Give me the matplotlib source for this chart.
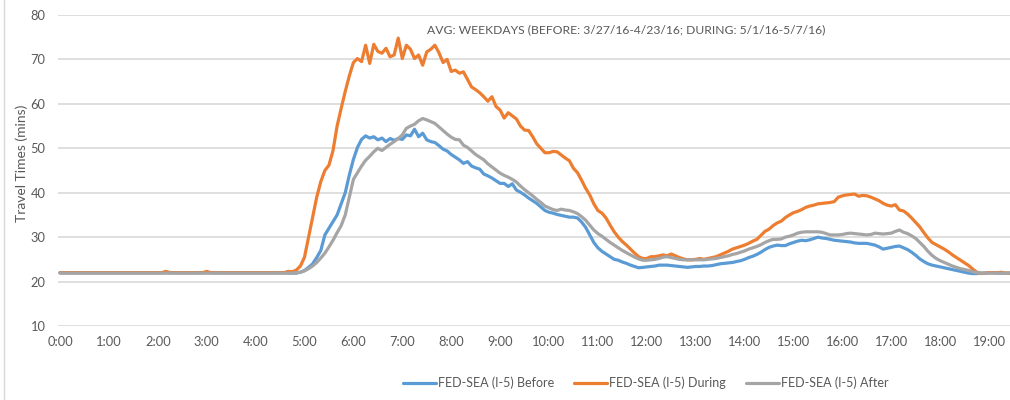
import matplotlib
matplotlib.use("Agg")
import matplotlib.pyplot as plt
from matplotlib.lines import Line2D

# ---- data (5-minute intervals, 0:00 .. 19:30), one row per hour ----
before = (
    [22.0, 22.0, 22.0, 22.0, 22.0, 22.0, 22.0, 22.0, 22.0, 22.0, 22.0, 22.0] +
    [22.0, 22.0, 22.0, 22.0, 22.0, 22.0, 22.0, 22.0, 22.0, 22.0, 22.0, 22.0] +
    [22.0, 22.0, 22.0, 22.0, 22.0, 22.0, 22.0, 22.0, 22.0, 22.0, 22.0, 22.0] +
    [22.0, 22.0, 22.0, 22.0, 22.0, 22.0, 22.0, 22.0, 22.0, 22.0, 22.0, 22.0] +
    [22.0, 22.0, 22.0, 22.0, 22.0, 22.0, 22.0, 22.0, 21.9, 21.9, 21.9, 22.1] +
    [22.5, 23.2, 24.0, 25.4, 27.0, 30.5, 32.0, 33.5, 35.0, 37.5, 40.0, 44.0] +
    [47.5, 50.2, 52.0, 52.8, 52.3, 52.6, 51.9, 52.3, 51.5, 52.2, 51.8, 52.2] +
    [52.0, 53.0, 52.8, 54.3, 52.6, 53.4, 51.9, 51.5, 51.3, 50.6, 49.8, 49.4] +
    [48.6, 48.0, 47.4, 46.6, 47.0, 46.0, 45.6, 45.3, 44.2, 43.8, 43.3, 42.7] +
    [42.1, 42.1, 41.4, 42.0, 40.6, 40.1, 39.5, 38.8, 38.2, 37.6, 36.8, 36.0] +
    [35.6, 35.4, 35.1, 34.9, 34.7, 34.5, 34.5, 34.3, 33.4, 32.2, 30.5, 28.8] +
    [27.6, 26.8, 26.2, 25.6, 25.0, 24.8, 24.4, 24.1, 23.7, 23.4, 23.1, 23.2] +
    [23.3, 23.4, 23.5, 23.7, 23.7, 23.7, 23.6, 23.5, 23.4, 23.3, 23.2, 23.3] +
    [23.4, 23.4, 23.5, 23.5, 23.6, 23.8, 24.0, 24.1, 24.2, 24.3, 24.5, 24.7] +
    [25.0, 25.4, 25.7, 26.1, 26.6, 27.2, 27.7, 28.0, 28.2, 28.1, 28.1, 28.5] +
    [28.8, 29.1, 29.3, 29.2, 29.4, 29.7, 30.0, 29.8, 29.7, 29.5, 29.3, 29.2] +
    [29.1, 29.0, 28.9, 28.7, 28.6, 28.6, 28.6, 28.4, 28.2, 27.8, 27.3, 27.5] +
    [27.7, 27.9, 28.0, 27.6, 27.2, 26.6, 25.9, 25.1, 24.5, 24.0, 23.7, 23.5] +
    [23.3, 23.1, 22.9, 22.7, 22.5, 22.3, 22.1, 21.9, 21.8, 21.8, 21.9, 21.9] +
    [22.0, 22.0, 21.9, 21.9, 21.9, 21.9, 21.9]
)

during = (
    [22.0, 22.0, 22.0, 22.0, 22.0, 22.0, 22.0, 22.0, 22.0, 22.0, 22.0, 22.0] +
    [22.0, 22.0, 22.0, 22.0, 22.0, 22.0, 22.0, 22.0, 22.0, 22.0, 22.0, 22.0] +
    [22.0, 22.0, 22.3, 22.0, 22.0, 22.0, 22.0, 22.0, 22.0, 22.0, 22.0, 22.0] +
    [22.3, 22.0, 22.0, 22.0, 22.0, 22.0, 22.0, 22.0, 22.0, 22.0, 22.0, 22.0] +
    [22.0, 22.0, 22.0, 22.0, 22.0, 22.0, 22.0, 22.0, 22.3, 22.2, 22.6, 23.5] +
    [25.5, 30.0, 34.6, 39.0, 42.5, 45.0, 46.2, 49.5, 55.0, 59.0, 62.8, 66.3] +
    [69.3, 70.2, 69.5, 73.2, 69.1, 73.4, 71.8, 71.4, 72.5, 70.6, 71.0, 74.8] +
    [70.2, 73.2, 72.3, 70.2, 71.0, 68.7, 71.7, 72.3, 73.2, 71.5, 69.3, 70.0] +
    [67.3, 67.6, 66.9, 67.2, 65.5, 63.8, 63.2, 62.5, 61.6, 60.6, 61.6, 59.4] +
    [58.6, 56.8, 58.0, 57.3, 56.6, 55.0, 54.1, 54.0, 52.6, 51.0, 50.0, 49.0] +
    [49.0, 49.3, 49.2, 48.5, 47.8, 47.2, 45.5, 44.5, 42.8, 41.0, 39.5, 37.5] +
    [36.0, 35.4, 34.3, 32.7, 31.2, 30.0, 29.0, 28.2, 27.3, 26.4, 25.6, 25.2] +
    [25.2, 25.6, 25.6, 25.8, 26.0, 25.8, 26.2, 25.8, 25.4, 25.1, 24.9, 24.9] +
    [25.0, 25.2, 25.0, 25.2, 25.4, 25.6, 26.0, 26.4, 26.8, 27.3, 27.6, 27.9] +
    [28.2, 28.6, 29.1, 29.5, 30.4, 31.3, 31.8, 32.6, 33.2, 33.6, 34.4, 35.0] +
    [35.5, 35.8, 36.2, 36.7, 37.0, 37.2, 37.5, 37.6, 37.7, 37.8, 38.0, 39.0] +
    [39.3, 39.5, 39.6, 39.7, 39.2, 39.4, 39.3, 39.0, 38.6, 38.2, 37.6, 37.2] +
    [37.0, 37.3, 36.1, 35.9, 35.2, 34.3, 33.3, 32.3, 31.0, 29.8, 28.8, 28.3] +
    [27.8, 27.3, 26.7, 26.0, 25.4, 24.8, 24.2, 23.6, 22.8, 22.1, 21.8, 21.9] +
    [22.0, 22.0, 22.0, 22.1, 21.9, 21.9, 21.9]
)

after = (
    [21.9, 21.9, 21.9, 21.9, 21.9, 21.9, 21.9, 21.9, 21.9, 21.9, 21.9, 21.9] +
    [21.9, 21.9, 21.9, 21.9, 21.9, 21.9, 21.9, 21.9, 21.9, 21.9, 21.9, 21.9] +
    [21.9, 21.9, 21.9, 21.9, 21.9, 21.9, 21.9, 21.9, 21.9, 21.9, 21.9, 21.9] +
    [21.9, 21.9, 21.9, 21.9, 21.9, 21.9, 21.9, 21.9, 21.9, 21.9, 21.9, 21.9] +
    [21.9, 21.9, 21.9, 21.9, 21.9, 21.9, 21.9, 21.9, 21.9, 21.9, 22.0, 22.1] +
    [22.4, 22.9, 23.5, 24.3, 25.3, 26.4, 27.8, 29.3, 31.0, 32.6, 35.0, 39.0] +
    [43.0, 44.5, 46.0, 47.3, 48.2, 49.2, 50.0, 49.5, 50.2, 50.9, 51.5, 52.2] +
    [53.0, 54.5, 55.0, 55.4, 56.2, 56.7, 56.4, 56.0, 55.6, 54.8, 54.0, 53.2] +
    [52.5, 52.0, 51.9, 50.7, 50.2, 49.4, 48.6, 48.0, 47.4, 46.5, 45.8, 45.1] +
    [44.4, 43.9, 43.5, 43.0, 42.4, 41.5, 40.7, 40.0, 39.3, 38.5, 37.8, 37.0] +
    [36.6, 36.2, 36.0, 36.3, 36.1, 36.0, 35.7, 35.3, 34.6, 33.8, 32.7, 31.6] +
    [30.8, 30.2, 29.5, 28.8, 28.2, 27.6, 27.0, 26.5, 26.0, 25.5, 25.1, 24.8] +
    [24.8, 24.9, 25.0, 25.2, 25.5, 25.6, 25.4, 25.2, 25.0, 24.9, 24.9, 24.9] +
    [24.9, 24.9, 24.9, 25.0, 25.1, 25.2, 25.4, 25.6, 25.8, 26.1, 26.3, 26.6] +
    [26.9, 27.3, 27.6, 27.9, 28.3, 28.8, 29.2, 29.5, 29.5, 29.6, 30.0, 30.2] +
    [30.5, 30.9, 31.1, 31.2, 31.2, 31.2, 31.2, 31.1, 30.8, 30.5, 30.5, 30.5] +
    [30.6, 30.8, 30.9, 30.8, 30.7, 30.6, 30.5, 30.6, 30.9, 30.8, 30.7, 30.8] +
    [30.9, 31.3, 31.6, 31.1, 30.8, 30.3, 29.7, 28.8, 27.9, 26.8, 25.9, 25.2] +
    [24.7, 24.3, 23.9, 23.5, 23.2, 22.9, 22.7, 22.5, 22.2, 22.0, 21.9, 21.9] +
    [21.9, 21.9, 21.9, 21.9, 21.9, 21.9, 21.9]
)

interval_min = 5
hour_labels = ["%d:00" % h for h in range(20)]
series_names = ["FED-SEA (I-5) Before", "FED-SEA (I-5) During", "FED-SEA (I-5) After"]
title_text = "AVG: WEEKDAYS (BEFORE: 3/27/16-4/23/16; DURING: 5/1/16-5/7/16)"
y_label = "Travel Times (mins)"

colors = ["#5B9BD5", "#ED7D31", "#A5A5A5"]
text_color = "#595959"
grid_color = "#D9D9D9"

plt.rcParams['font.family'] = ['Lato', 'DejaVu Sans']

fig = plt.figure(figsize=(10.10, 4.00), dpi=100)
W, H = 1010, 400
ax = fig.add_axes([58 / W, 1 - 326 / H, (1010 - 58) / W, (326 - 15) / H])

x = [i * interval_min / 60.0 for i in range(len(before))]
lines = []
for vals, c, name in zip([before, during, after], colors, series_names):
    ln, = ax.plot(x, vals, color=c, lw=2.3, solid_joinstyle='round',
                  solid_capstyle='round', label=name, zorder=3)
    lines.append(ln)

ax.set_ylim(10, 80)
ax.set_yticks(range(10, 81, 10))
ax.set_xlim(-2 / 48.9, (1010 - 60) / 48.9)
ax.set_xticks(range(len(hour_labels)))
ax.set_xticklabels(hour_labels)

ax.grid(axis='y', color=grid_color, lw=1.2, zorder=0)
for s in ax.spines.values():
    s.set_visible(False)
ax.tick_params(axis='both', length=0, colors=text_color, labelsize=9.3)
ax.tick_params(axis='y', pad=9)
ax.tick_params(axis='x', pad=7)

fig.text(22 / W, 1 - 163 / H, y_label, rotation=90, ha='center', va='center',
         color=text_color, fontsize=10)
fig.text(626 / W, 1 - 30 / H, title_text, ha='center', va='center',
         color=text_color, fontsize=8.7)

fig.legend(lines, series_names, loc='center', bbox_to_anchor=(646 / W, 1 - 383 / H),
           ncol=3, frameon=False, fontsize=9, labelcolor=text_color,
           handlelength=2.6, handletextpad=0.2, columnspacing=1.6)

fig.add_artist(Line2D([4 / W, 4 / W], [0, 1], color="#D9D9D9", lw=1.0,
                      transform=fig.transFigure))

fig.savefig("out.png", dpi=100)
